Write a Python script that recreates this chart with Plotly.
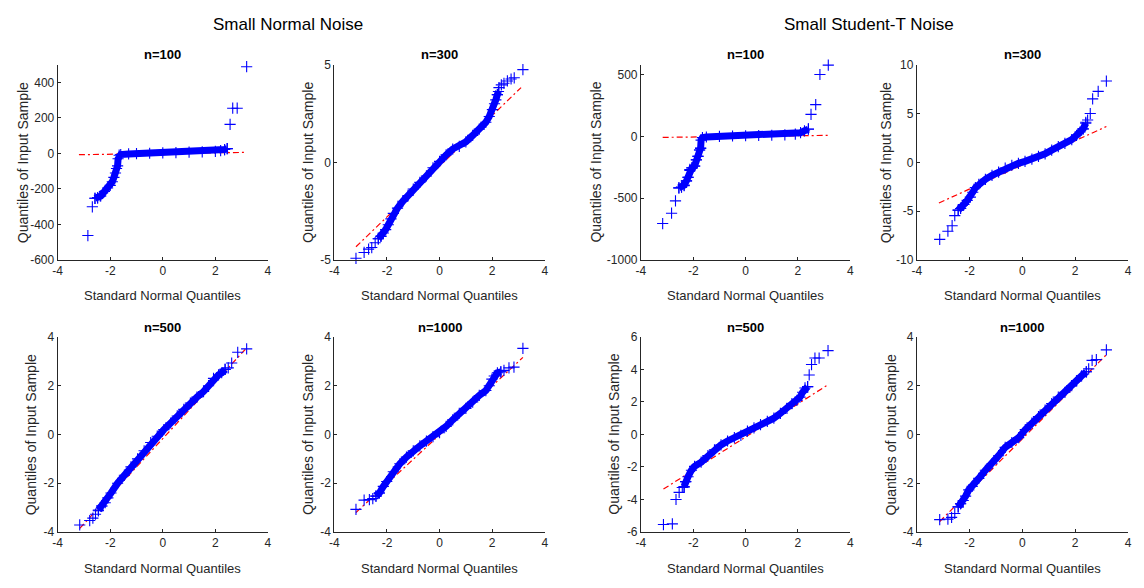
import plotly.graph_objects as go

# ---------------- DATA ----------------
group_titles = ["Small Normal Noise", "Small Student-T Noise"]
panel_titles = ["n=100", "n=300", "n=100", "n=300", "n=500", "n=1000", "n=500", "n=1000"]
x_label = "Standard Normal Quantiles"
y_label = "Quantiles of Input Sample"

x_tickvals = [-4, -2, 0, 2, 4]
x_ticktext = ["-4", "-2", "0", "2", "4"]

y_tickvals = [
    [-600, -400, -200, 0, 200, 400],
    [-5, 0, 5],
    [-1000, -500, 0, 500],
    [-10, -5, 0, 5, 10],
    [-4, -2, 0, 2, 4],
    [-4, -2, 0, 2, 4],
    [-6, -4, -2, 0, 2, 4, 6],
    [-4, -2, 0, 2, 4],
]
y_ticktext = [
    ["-600", "-400", "-200", "0", "200", "400"],
    ["-5", "0", "5"],
    ["-1000", "-500", "0", "500"],
    ["-10", "-5", "0", "5", "10"],
    ["-4", "-2", "0", "2", "4"],
    ["-4", "-2", "0", "2", "4"],
    ["-6", "-4", "-2", "0", "2", "4", "6"],
    ["-4", "-2", "0", "2", "4"],
]
y_ranges = [[-600, 500], [-5, 5], [-1000, 580], [-10, 10],
            [-4, 4], [-4, 4], [-6, 6], [-4, 4]]

# Panel 1: normal noise, n=100
p1_tail_x = [-3.19, -2.85, -2.68, -2.58, -2.48, -2.38, 2.35, 2.45, 2.56, 2.66, 2.83, 3.19]
p1_tail_y = [-605, -463, -301, -253, -250, -240, 22, 27, 164, 255, 255, 489]
p1_body_x = [-2.58, -2.48, -2.36, -2.22, -2.1, -2.0, -1.92, -1.86, -1.8, -1.76, -1.72, -1.7,
             -1.66, -1.6, -1.3, -1.0, -0.5, 0.0, 0.5, 1.0, 1.5, 2.0, 2.2, 2.35, 2.45]
p1_body_y = [-253, -250, -240, -215, -195, -180, -160, -135, -110, -85, -70, -30,
             -10, -6, -3, -1, 1, 3, 5, 7, 9, 12, 16, 22, 27]
p1_ref_x = [-3.19, 3.19]
p1_ref_y = [-7, 6]

# Panel 2: normal noise, n=300
p2_tail_x = [-3.18, -2.87, -2.7, -2.58, -2.45, -2.33, -2.23, 2.2, 2.26, 2.35, 2.45, 2.58, 2.72, 2.84, 3.17]
p2_tail_y = [-4.92, -4.62, -4.45, -4.37, -4.12, -3.92, -3.8, 3.47, 3.83, 3.97, 4.05, 4.17, 4.27, 4.33, 4.75]
p2_body_x = [-2.33, -2.23, -2.14, -2.05, -1.95, -1.85, -1.76, -1.6, -1.4, -1.2, -1.0, -0.75, -0.5,
             -0.25, 0.0, 0.25, 0.5, 0.75, 1.0, 1.26, 1.51, 1.76, 1.89, 2.01, 2.09, 2.14, 2.2, 2.24]
p2_body_y = [-3.92, -3.78, -3.62, -3.45, -3.2, -2.9, -2.62, -2.35, -2.0, -1.7, -1.37, -1.03, -0.7,
             -0.28, 0.05, 0.38, 0.68, 0.82, 1.05, 1.38, 1.7, 2.05, 2.35, 2.7, 3.0, 3.2, 3.47, 3.63]
p2_ref_x = [-3.18, 3.1]
p2_ref_y = [-4.33, 3.83]

# Panel 3: student-t noise, n=100
p3_tail_x = [-3.17, -2.83, -2.68, -2.55, -2.45, -2.35, -2.26, -2.2, -2.13, -2.05, -1.95, -1.88, -1.82,
             -1.76, -1.72, 2.4, 2.5, 2.68, 2.84, 3.16]
p3_tail_y = [-706, -622, -522, -417, -412, -399, -360, -333, -268, -255, -241, -189, -163,
             -110, -97, 60, 178, 257, 501, 577]
p3_body_x = [-2.55, -2.45, -2.35, -2.26, -2.2, -2.13, -2.05, -1.95, -1.88, -1.82, -1.76, -1.72, -1.7,
             -1.65, -1.5, -1.0, -0.5, 0.0, 0.5, 1.0, 1.5, 1.9, 2.1, 2.25, 2.4]
p3_body_y = [-417, -410, -395, -360, -330, -275, -255, -240, -190, -160, -110, -95, -30,
             -10, -5, 0, 3, 5, 7, 9, 12, 18, 30, 45, 58]
p3_ref_x = [-3.17, 3.16]
p3_ref_y = [-8, 8]

# Panel 4: student-t noise, n=300
p4_tail_x = [-3.13, -2.82, -2.66, -2.56, -2.43, -2.34, -2.22, 2.3, 2.4, 2.47, 2.57, 2.66, 2.87, 3.18]
p4_tail_y = [-7.9, -7.07, -6.5, -5.47, -4.9, -4.73, -4.33, 3.43, 4.1, 4.33, 5.0, 6.5, 7.27, 8.33]
p4_body_x = [-2.43, -2.34, -2.22, -2.09, -1.97, -1.88, -1.78, -1.65, -1.4, -1.15, -0.9, -0.65, -0.4,
             -0.15, 0.1, 0.36, 0.61, 0.86, 1.11, 1.36, 1.61, 1.87, 2.05, 2.18, 2.3, 2.4]
p4_body_y = [-4.9, -4.73, -4.33, -3.9, -3.57, -3.07, -2.6, -2.25, -1.75, -1.33, -1.0, -0.6, -0.3,
             -0.1, 0.1, 0.33, 0.6, 0.87, 1.25, 1.6, 1.93, 2.33, 2.77, 3.1, 3.43, 4.0]
p4_ref_x = [-3.16, 3.18]
p4_ref_y = [-4.17, 3.67]

# Panel 5: normal noise, n=500
p5_tail_x = [-3.16, -2.78, -2.66, -2.56, -2.45, -2.32, 2.37, 2.49, 2.62, 2.85, 3.19]
p5_tail_y = [-3.71, -3.53, -3.43, -3.27, -3.13, -2.93, 2.67, 2.73, 2.93, 3.37, 3.51]
p5_body_x = [-2.45, -2.32, -2.19, -2.09, -1.97, -1.72, -1.46, -1.21, -0.96, -0.71, -0.46, -0.21,
             0.04, 0.3, 0.55, 0.8, 1.05, 1.3, 1.55, 1.74, 1.93, 2.12, 2.24, 2.37]
p5_body_y = [-3.1, -2.93, -2.8, -2.6, -2.4, -2.0, -1.67, -1.33, -1.0, -0.67, -0.33, -0.07,
             0.2, 0.47, 0.76, 1.03, 1.29, 1.53, 1.76, 2.0, 2.3, 2.44, 2.53, 2.67]
p5_ref_x = [-3.16, 3.19]
p5_ref_y = [-3.85, 3.55]

# Panel 6: normal noise, n=1000
p6_tail_x = [-3.18, -2.87, -2.67, -2.54, -2.42, -2.29, 2.33, 2.45, 2.64, 2.83, 3.17]
p6_tail_y = [-3.07, -2.69, -2.67, -2.63, -2.53, -2.4, 2.57, 2.63, 2.73, 2.76, 3.53]
p6_body_x = [-2.42, -2.29, -2.14, -2.01, -1.76, -1.51, -1.26, -1.0, -0.75, -0.5, -0.25, 0.0,
             0.25, 0.5, 0.75, 1.0, 1.26, 1.51, 1.76, 1.89, 1.99, 2.08, 2.2, 2.33]
p6_body_y = [-2.53, -2.4, -2.13, -1.93, -1.53, -1.2, -0.93, -0.67, -0.47, -0.27, -0.09, 0.07,
             0.33, 0.6, 0.87, 1.07, 1.33, 1.6, 1.8, 2.0, 2.27, 2.4, 2.53, 2.57]
p6_ref_x = [-3.18, 3.17]
p6_ref_y = [-3.2, 3.16]

# Panel 7: student-t noise, n=500
p7_tail_x = [-3.14, -2.8, -2.66, -2.54, -2.42, -2.35, -2.29, 2.37, 2.43, 2.52, 2.65, 2.81, 3.15]
p7_tail_y = [-5.54, -5.5, -4.0, -3.56, -3.26, -3.24, -2.9, 2.94, 3.66, 4.3, 4.7, 4.7, 5.16]
p7_body_x = [-2.35, -2.29, -2.2, -2.07, -1.95, -1.7, -1.44, -1.19, -0.94, -0.69, -0.43, -0.18,
             0.07, 0.32, 0.57, 0.83, 1.08, 1.33, 1.58, 1.77, 1.96, 2.08, 2.18, 2.27, 2.37]
p7_body_y = [-3.2, -2.9, -2.6, -2.2, -1.96, -1.7, -1.3, -0.94, -0.64, -0.4, -0.2, -0.06,
             0.2, 0.4, 0.6, 0.8, 1.0, 1.3, 1.6, 1.9, 2.1, 2.3, 2.6, 2.86, 2.94]
p7_ref_x = [-3.14, 3.15]
p7_ref_y = [-3.36, 3.06]

# Panel 8: student-t noise, n=1000
p8_tail_x = [-3.13, -2.82, -2.68, -2.56, -2.43, -2.34, 2.42, 2.51, 2.64, 2.8, 3.18]
p8_tail_y = [-3.49, -3.47, -3.4, -3.24, -2.97, -2.84, 2.57, 2.69, 3.04, 3.07, 3.47]
p8_body_x = [-2.43, -2.34, -2.24, -2.15, -2.03, -1.9, -1.65, -1.4, -1.15, -0.9, -0.65, -0.4,
             -0.14, 0.11, 0.36, 0.61, 0.86, 1.11, 1.36, 1.61, 1.87, 2.05, 2.24, 2.42]
p8_body_y = [-2.97, -2.84, -2.71, -2.53, -2.27, -2.13, -1.8, -1.47, -1.2, -0.87, -0.53, -0.33,
             -0.13, 0.2, 0.47, 0.73, 1.0, 1.27, 1.53, 1.73, 2.0, 2.2, 2.4, 2.57]
p8_ref_x = [-3.13, 3.18]
p8_ref_y = [-3.57, 3.27]

panels = [
    (p1_tail_x, p1_tail_y, p1_body_x, p1_body_y, p1_ref_x, p1_ref_y),
    (p2_tail_x, p2_tail_y, p2_body_x, p2_body_y, p2_ref_x, p2_ref_y),
    (p3_tail_x, p3_tail_y, p3_body_x, p3_body_y, p3_ref_x, p3_ref_y),
    (p4_tail_x, p4_tail_y, p4_body_x, p4_body_y, p4_ref_x, p4_ref_y),
    (p5_tail_x, p5_tail_y, p5_body_x, p5_body_y, p5_ref_x, p5_ref_y),
    (p6_tail_x, p6_tail_y, p6_body_x, p6_body_y, p6_ref_x, p6_ref_y),
    (p7_tail_x, p7_tail_y, p7_body_x, p7_body_y, p7_ref_x, p7_ref_y),
    (p8_tail_x, p8_tail_y, p8_body_x, p8_body_y, p8_ref_x, p8_ref_y),
]

# ---------------- LAYOUT (pixel geometry) ----------------
# The page body keeps its default 8px margin on every side; the figure is sized so
# that figure + margins fill the 1144x588 window exactly (no page overflow).
OFF = 8
W, H = 1144 - 2 * OFF, 588 - 2 * OFF
FONT = "Liberation Sans, Arial, Helvetica, sans-serif"
AX = "#262626"
BLUE = "#0000ff"


def px_x(v):
    return (v - OFF) / W


def px_y(v):
    return 1 - (v - OFF) / H


# plot area boxes: (left, right, top, bottom) in window pixels
boxes = [
    (53, 265, 59, 259), (332, 544, 59, 259), (641, 852, 59, 259), (919, 1132, 59, 259),
    (53, 265, 338, 538), (332, 544, 338, 538), (641, 852, 338, 538), (919, 1132, 338, 538),
]
ylabel_x = [18, 306, 596, 888, 27, 306, 614, 894]
title_y = [49, 49, 49, 49, 328, 328, 328, 328]
xlabel_y = [296, 296, 296, 296, 575, 575, 575, 575]

fig = go.Figure()
annotations = []
MARK = dict(symbol="cross-thin", size=8, line=dict(color=BLUE, width=1.1))

for i, (tx, ty, bx, by, rx, ry) in enumerate(panels):
    k = i + 1
    xa = "x" if k == 1 else f"x{k}"
    ya = "y" if k == 1 else f"y{k}"
    fig.add_trace(go.Scatter(x=rx, y=ry, mode="lines", xaxis=xa, yaxis=ya,
                             line=dict(color="#ff0000", width=1.2, dash="6px,3px,2px,3px"),
                             hoverinfo="skip", showlegend=False))
    fig.add_trace(go.Scatter(x=bx, y=by, mode="lines+markers", xaxis=xa, yaxis=ya,
                             line=dict(color=BLUE, width=7), marker=MARK,
                             cliponaxis=False, showlegend=False))
    fig.add_trace(go.Scatter(x=tx, y=ty, mode="markers", xaxis=xa, yaxis=ya,
                             marker=MARK, cliponaxis=False, showlegend=False))

    l, r, t, b = boxes[i]
    common = dict(showline=True, linecolor=AX, linewidth=1, mirror=False,
                  ticks="inside", ticklen=3, tickcolor=AX, tickwidth=1,
                  showgrid=False, zeroline=False,
                  tickfont=dict(family=FONT, size=12, color=AX))
    fig.update_layout(**{
        ("xaxis" if k == 1 else f"xaxis{k}"): dict(
            domain=[px_x(l), px_x(r)], anchor=ya, range=[-4, 4],
            tickvals=x_tickvals, ticktext=x_ticktext, **common),
        ("yaxis" if k == 1 else f"yaxis{k}"): dict(
            domain=[px_y(b), px_y(t)], anchor=xa, range=y_ranges[i],
            tickvals=y_tickvals[i], ticktext=y_ticktext[i], **common),
    })
    cx = px_x((l + r) / 2)
    annotations.append(dict(text=f"<b>{panel_titles[i]}</b>", x=cx, y=px_y(title_y[i]),
                            xref="paper", yref="paper", showarrow=False,
                            xanchor="center", yanchor="middle",
                            font=dict(family=FONT, size=13, color="#000000")))
    annotations.append(dict(text=x_label, x=cx, y=px_y(xlabel_y[i]),
                            xref="paper", yref="paper", showarrow=False,
                            xanchor="center", yanchor="middle",
                            font=dict(family=FONT, size=13, color=AX)))
    annotations.append(dict(text=y_label, x=px_x(ylabel_x[i]), y=px_y((t + b) / 2),
                            xref="paper", yref="paper", showarrow=False, textangle=-90,
                            xanchor="center", yanchor="middle",
                            font=dict(family=FONT, size=14, color=AX)))

annotations.append(dict(text=group_titles[0], x=px_x(285), y=px_y(18), xref="paper", yref="paper",
                        showarrow=False, xanchor="center", yanchor="middle",
                        font=dict(family=FONT, size=17, color="#000000")))
annotations.append(dict(text=group_titles[1], x=px_x(871), y=px_y(18), xref="paper", yref="paper",
                        showarrow=False, xanchor="center", yanchor="middle",
                        font=dict(family=FONT, size=17, color="#000000")))

fig.update_layout(width=W, height=H, margin=dict(l=0, r=0, t=0, b=0),
                  paper_bgcolor="white", plot_bgcolor="white",
                  annotations=annotations, showlegend=False)

fig.write_html("out.html", config={"displayModeBar": False})
